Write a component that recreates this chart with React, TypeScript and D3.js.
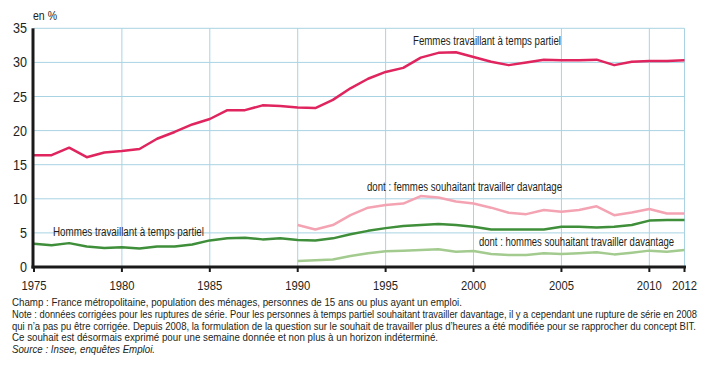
import React from "react";
import * as d3 from "d3";

const years = d3.range(1975, 2013);
const femmesTP = [16.4, 16.4, 17.5, 16.1, 16.8, 17.0, 17.3, 18.8, 19.8, 20.9, 21.7, 23.0, 23.0, 23.7, 23.6, 23.4, 23.3, 24.5, 26.2, 27.6, 28.6, 29.2, 30.7, 31.4, 31.5, 30.8, 30.1, 29.6, 30.0, 30.4, 30.3, 30.3, 30.4, 29.6, 30.1, 30.2, 30.2, 30.3];
const hommesTP = [3.4, 3.2, 3.5, 3.0, 2.8, 2.9, 2.7, 3.0, 3.0, 3.3, 3.9, 4.2, 4.3, 4.05, 4.2, 3.95, 3.9, 4.2, 4.8, 5.3, 5.7, 6.0, 6.15, 6.3, 6.15, 5.9, 5.5, 5.5, 5.5, 5.5, 5.9, 5.9, 5.8, 5.9, 6.15, 6.8, 6.9, 6.9];
const subYears = d3.range(1990, 2013);
const femmesSouh = [6.15, 5.5, 6.15, 7.6, 8.7, 9.1, 9.3, 10.4, 10.2, 9.6, 9.3, 8.7, 7.95, 7.75, 8.35, 8.1, 8.35, 8.9, 7.6, 8.0, 8.5, 7.85, 7.85];
const hommesSouh = [0.88, 1.0, 1.1, 1.6, 2.0, 2.3, 2.4, 2.5, 2.6, 2.25, 2.35, 1.9, 1.75, 1.75, 2.0, 1.9, 2.0, 2.15, 1.85, 2.1, 2.4, 2.25, 2.5];
const yTicks = [0, 5, 10, 15, 20, 25, 30, 35];
const xTicks = [1975, 1980, 1985, 1990, 1995, 2000, 2005, 2010, 2012];
const notes = [
  "Champ : France métropolitaine, population des ménages, personnes de 15 ans ou plus ayant un emploi.",
  "Note : données corrigées pour les ruptures de série. Pour les personnes à temps partiel souhaitant travailler davantage, il y a cependant une rupture de série en 2008",
  "qui n’a pas pu être corrigée. Depuis 2008, la formulation de la question sur le souhait de travailler plus d’heures a été modifiée pour se rapprocher du concept BIT.",
  "Ce souhait est désormais exprimé pour une semaine donnée et non plus à un horizon indéterminé.",
];
const noteWidths = [450, 685, 684, 426];

const FONT = "'Liberation Sans', Arial, sans-serif";

export default function App() {
  const x = d3.scaleLinear().domain([1975, 2012]).range([34, 684.5]);
  const y = d3.scaleLinear().domain([0, 35]).range([267, 28.3]);
  const line = d3
    .line<[number, number]>()
    .x((d) => x(d[0]))
    .y((d) => y(d[1]));
  const mk = (ys: number[], vs: number[]) => line(ys.map((yy, i) => [yy, vs[i]] as [number, number])) || "";
  const grid = "#a9d3e3";
  const textCol = "#231f20";
  const fit = { lengthAdjust: "spacingAndGlyphs" as const };
  return (
    <svg width={724} height={381} style={{ position: "absolute", left: 0, top: 0, background: "#fff" }} fontFamily={FONT}>
      {yTicks.filter((t) => t > 0).map((t) => (
        <line key={"h" + t} x1={x(1975)} x2={x(2012)} y1={y(t)} y2={y(t)} stroke={grid} strokeWidth={1} />
      ))}
      {xTicks.filter((t) => t > 1975).map((t) => (
        <line key={"v" + t} x1={x(t)} x2={x(t)} y1={y(35)} y2={y(0)} stroke={grid} strokeWidth={1} />
      ))}
      <path d={mk(years, femmesTP)} fill="none" stroke="#e0245e" strokeWidth={2.5} strokeLinejoin="round" />
      <path d={mk(subYears, femmesSouh)} fill="none" stroke="#f4a3b3" strokeWidth={2.5} strokeLinejoin="round" />
      <path d={mk(years, hommesTP)} fill="none" stroke="#3f8e3a" strokeWidth={2.5} strokeLinejoin="round" />
      <path d={mk(subYears, hommesSouh)} fill="none" stroke="#a3cb8f" strokeWidth={2.5} strokeLinejoin="round" />
      <line x1={x(1975) - 1} x2={x(1975) - 1} y1={y(35)} y2={y(0) + 1.5} stroke="#1a1a1a" strokeWidth={3} />
      <line x1={x(1975) - 2.5} x2={x(2012) + 1.5} y1={y(0)} y2={y(0)} stroke="#1a1a1a" strokeWidth={3} />
      {xTicks.map((t) => (
        <line key={"t" + t} x1={x(t)} x2={x(t)} y1={y(0)} y2={y(0) + 5} stroke="#1a1a1a" strokeWidth={2} />
      ))}
      {yTicks.map((t) => (
        <text key={"yl" + t} x={27} y={y(t) + 5} textAnchor="end" fontSize={14} fill={textCol} textLength={t < 10 ? 7 : 14} {...fit}>
          {t}
        </text>
      ))}
      {xTicks.map((t) => (
        <text key={"xl" + t} x={x(t) - 12.5} y={290} fontSize={13} fill={textCol} textLength={25} {...fit}>
          {t}
        </text>
      ))}
      <text x={33} y={20} fontSize={12} fill={textCol} textLength={24} {...fit}>en %</text>
      <text x={413} y={45} fontSize={12.5} fill={textCol} textLength={148} {...fit}>Femmes travaillant à temps partiel</text>
      <text x={53} y={236} fontSize={12.5} fill={textCol} textLength={151} {...fit}>Hommes travaillant à temps partiel</text>
      <text x={367} y={191} fontSize={12.5} fill={textCol} textLength={195} {...fit}>dont : femmes souhaitant travailler davantage</text>
      <text x={479} y={246} fontSize={12.5} fill={textCol} textLength={195} {...fit}>dont : hommes souhaitant travailler davantage</text>
      {notes.map((n, i) => (
        <text key={"n" + i} x={12} y={306 + i * 11.8} fontSize={11} fill={textCol} textLength={noteWidths[i]} {...fit}>
          {n}
        </text>
      ))}
      <text x={12} y={306 + 4 * 11.8} fontSize={11} fill={textCol} fontStyle="italic" textLength={143} {...fit}>
        Source : Insee, enquêtes Emploi.
      </text>
    </svg>
  );
}
